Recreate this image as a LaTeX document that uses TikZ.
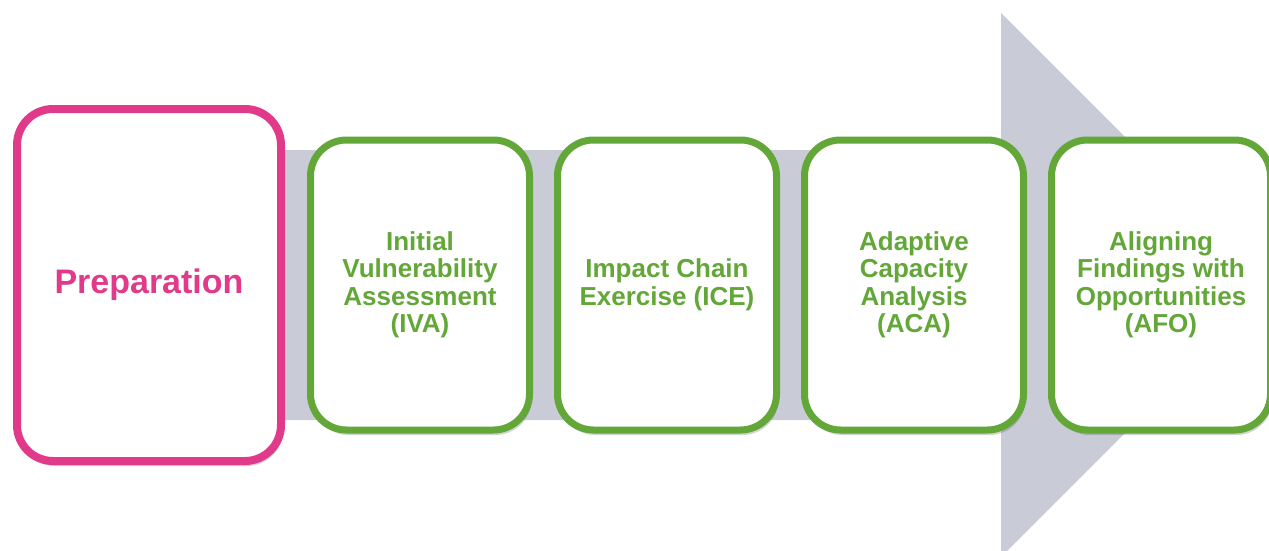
\documentclass[tikz,border=0pt]{standalone}
\usepackage{fontspec}
\setmainfont{Liberation Sans}
\usetikzlibrary{shadows}

\definecolor{prepink}{RGB}{226,58,138}
\definecolor{phasegreen}{RGB}{99,167,56}
\definecolor{arrowgray}{RGB}{201,204,214}

\begin{document}
\begin{tikzpicture}[x = 1pt, y = -1pt, font = \bfseries,
	card/.style = {draw, fill = white, rounded corners = 36pt, align = center, inner sep = 0pt,
		drop shadow = {shadow xshift = 2pt, shadow yshift = -5pt, opacity = 0.25, fill = black!70}},
	prepcard/.style = {card, draw = prepink, text = prepink, line width = 8pt,
		minimum width = 264pt, minimum height = 352pt, font = \bfseries\fontsize{34}{36}\selectfont},
	phasecard/.style = {card, draw = phasegreen, text = phasegreen, line width = 7pt,
		minimum width = 219pt, minimum height = 290pt, font = \bfseries\fontsize{26}{27.5}\selectfont}]

	% Definitions
	
	\def\xa{420}		% Centre of first phase card
	\def\dx{247}		% Distance between phase cards
	\def\yc{285}		% Middle line of the arrow
	
	\clip (0, 0) rectangle (1269, 551);
	
	% Draw arrow
	
	\fill [arrowgray] (30, 150) -- (1001, 150) -- (1001, 13) -- (1273, \yc) -- (1001, 557) -- (1001, 420) -- (30, 420) -- cycle;
	
	% Draw cards
	
	\node [prepcard] (prep) at (149, \yc) {Preparation};
	
	\foreach \name/\txt [count = \n from 0] in {iva/{Initial\\Vulnerability\\Assessment\\(IVA)},
		ice/{Impact Chain\\Exercise (ICE)},
		aca/{Adaptive\\Capacity\\Analysis\\(ACA)},
		afo/{Aligning\\Findings with\\Opportunities\\(AFO)}}
		\node [phasecard] (\name) at ({\xa + \n * \dx}, \yc) {\txt};
	
\end{tikzpicture}
\end{document}
